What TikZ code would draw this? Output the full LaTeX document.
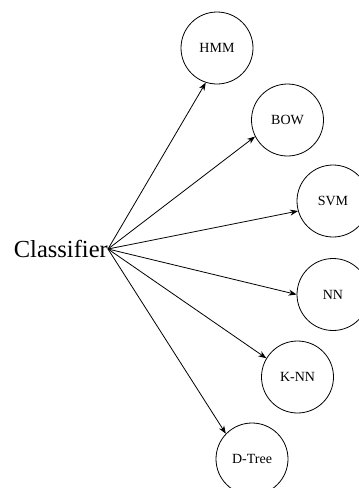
\documentclass[tikz,border=0pt]{standalone}
\usepackage{fontspec}
\setmainfont{Liberation Serif}
\usetikzlibrary{arrows.meta}
\begin{document}
\begin{tikzpicture}[x=1pt,y=-1pt,
  algo/.style={circle,draw,line width=0.8pt,minimum size=72pt,inner sep=0pt,font=\fontsize{14}{16}\selectfont},
  link/.style={line width=0.8pt,-{Stealth[length=8pt,width=6pt]}}]
\useasboundingbox (0,0) rectangle (359,488);
\clip (0,0) rectangle (359,488);
\fill[white] (0,0) rectangle (359,488);
\node[anchor=east,inner sep=0pt,font=\fontsize{24.5}{28}\selectfont] (cls) at (108,249) {Classifier};
\node[algo] (hmm) at (217,48) {HMM};
\node[algo] (bow) at (287.5,120) {BOW};
\node[algo] (svm) at (333,201) {SVM};
\node[algo] (nn) at (333,294.5) {NN};
\node[algo] (knn) at (297.5,377) {K-NN};
\node[algo] (dt) at (252,459) {D-Tree};
\draw[link] (cls.east) -- (hmm.252);
\draw[link] (cls.east) -- (bow.207);
\draw[link] (cls.east) -- (svm.196);
\draw[link] (cls.east) -- (nn.180);
\draw[link] (cls.east) -- (knn.149);
\draw[link] (cls.east) -- (dt.136);
\end{tikzpicture}
\end{document}
